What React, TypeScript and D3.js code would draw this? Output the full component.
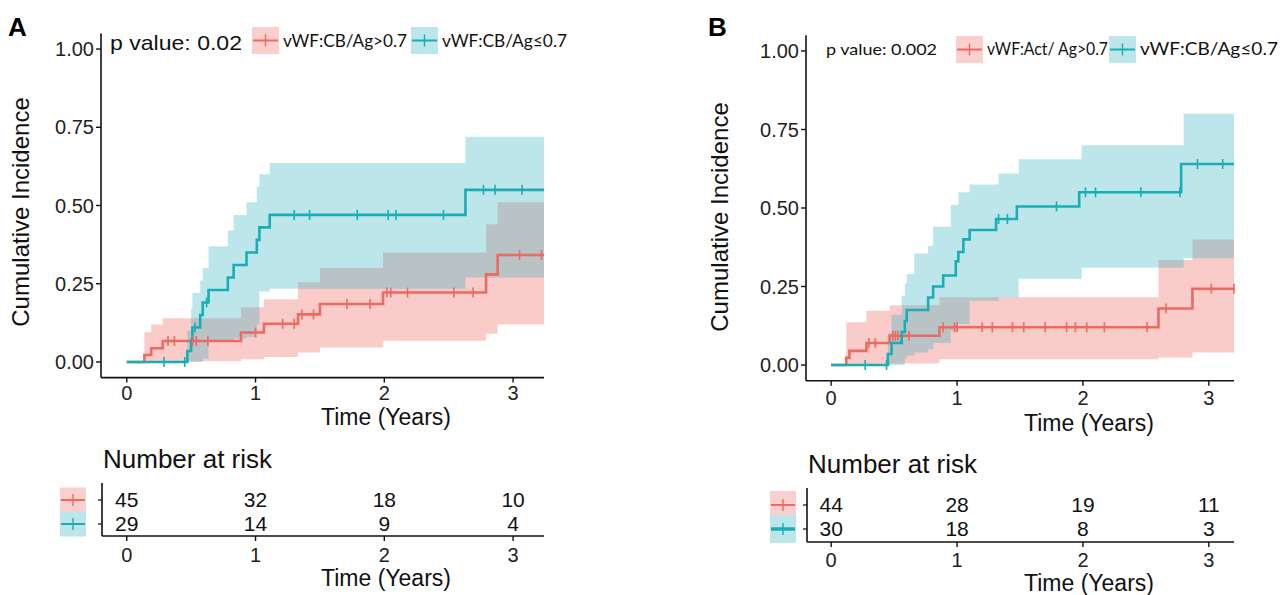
import React from 'react';
import * as d3 from 'd3';

// shared axis ticks
const timeTicks = [0, 1, 2, 3];
const incidenceTicks = [0, 0.25, 0.5, 0.75, 1];

// Panel A — step estimates [time, cumulative incidence]
const aHighSteps: [number, number][] = [
  [0, 0], [0.137, 0.022], [0.19, 0.044], [0.28, 0.067], [0.887, 0.094], [1.065, 0.122],
  [1.33, 0.152], [1.5, 0.185], [1.99, 0.222], [2.79, 0.28], [2.88, 0.342],
];
// confidence band [time, lower, upper]
const aHighBand: [number, number, number][] = [
  [0.137, 0, 0.095], [0.19, 0, 0.12], [0.28, 0.002, 0.14], [0.887, 0.009, 0.175],
  [1.065, 0.016, 0.2], [1.33, 0.03, 0.255], [1.5, 0.046, 0.3], [1.99, 0.068, 0.35],
  [2.79, 0.09, 0.44], [2.88, 0.12, 0.51],
];
const aHighCensor = [0.32, 0.37, 0.51, 0.54, 0.63, 1.0, 1.21, 1.3, 1.36, 1.45, 1.71, 1.89, 2.02, 2.05, 2.18, 2.54, 2.69, 3.05, 3.22];

const aLowSteps: [number, number][] = [
  [0, 0], [0.47, 0.035], [0.5, 0.07], [0.51, 0.11], [0.57, 0.15], [0.59, 0.19], [0.635, 0.23],
  [0.785, 0.27], [0.83, 0.31], [0.93, 0.35], [1.01, 0.39], [1.03, 0.43], [1.11, 0.47], [2.63, 0.55],
];
const aLowBand: [number, number, number][] = [
  [0.47, 0, 0.1], [0.5, 0, 0.17], [0.51, 0, 0.22], [0.57, 0, 0.26], [0.59, 0.01, 0.3],
  [0.635, 0.07, 0.37], [0.785, 0.07, 0.42], [0.83, 0.075, 0.47], [0.93, 0.08, 0.51],
  [1.01, 0.12, 0.56], [1.03, 0.225, 0.6], [1.11, 0.234, 0.636], [2.63, 0.27, 0.72],
];
const aLowCensor = [0.29, 0.45, 0.53, 0.62, 1.3, 1.42, 1.79, 2.03, 2.09, 2.46, 2.77, 2.86, 3.07];

const aRiskHigh = [45, 32, 18, 10];
const aRiskLow = [29, 14, 9, 4];

// Panel B
const bHighSteps: [number, number][] = [
  [0, 0], [0.12, 0.023], [0.145, 0.045], [0.28, 0.07], [0.465, 0.093], [0.86, 0.12],
  [2.6, 0.18], [2.87, 0.243],
];
const bHighBand: [number, number, number][] = [
  [0.12, 0, 0.136], [0.28, 0, 0.173], [0.465, 0.005, 0.19], [0.86, 0.018, 0.216],
  [2.6, 0.024, 0.334], [2.87, 0.04, 0.4],
];
const bHighCensor = [0.3, 0.35, 0.49, 0.51, 0.53, 0.62, 0.89, 0.98, 1.0, 1.2, 1.28, 1.44, 1.53, 1.7, 1.87, 1.94, 2.03, 2.17, 2.51, 2.66, 3.02, 3.2];

const bLowSteps: [number, number][] = [
  [0, 0], [0.45, 0.035], [0.48, 0.07], [0.56, 0.105], [0.585, 0.14], [0.6, 0.175], [0.77, 0.215],
  [0.81, 0.25], [0.89, 0.285], [0.99, 0.33], [1.01, 0.36], [1.05, 0.4], [1.1, 0.43],
  [1.31, 0.465], [1.475, 0.505], [1.97, 0.55], [2.78, 0.64],
];
const bLowBand: [number, number, number][] = [
  [0.45, 0, 0.1], [0.48, 0, 0.16], [0.56, 0, 0.22], [0.585, 0.02, 0.26], [0.6, 0.03, 0.29],
  [0.66, 0.04, 0.355], [0.77, 0.05, 0.38], [0.81, 0.07, 0.44], [0.95, 0.11, 0.51],
  [1.01, 0.13, 0.55], [1.1, 0.205, 0.575], [1.33, 0.215, 0.61], [1.49, 0.275, 0.655],
  [1.99, 0.31, 0.7], [2.8, 0.34, 0.8],
];
const bLowCensor = [0.27, 0.44, 1.33, 1.4, 1.79, 2.02, 2.1, 2.46, 2.77, 2.91, 3.11];

const bRiskHigh = [44, 28, 19, 11];
const bRiskLow = [30, 18, 8, 3];

const RED = '#EC6A60';
const CYAN = '#17AEB5';
const RED_FILL = '#EB554E';
const CYAN_FILL = '#26ACB9';
const RED_KEY = '#F9D0CD';
const CYAN_KEY = '#BDE6EA';

const FONT = '"Liberation Sans", Arial, sans-serif';
const LEG_FONT = 'Lato, "Open Sans", sans-serif';

const Key = ({ x, y, w, h, color, fill, lw = 2 }) => (
  <g>
    <rect x={x} y={y} width={w} height={h} fill={fill} />
    <line x1={x + 1} x2={x + w - 1} y1={y + h / 2} y2={y + h / 2} stroke={color} strokeWidth={lw} />
    <line x1={x + w / 2} x2={x + w / 2} y1={y + h / 2 - 6} y2={y + h / 2 + 6} stroke={color} strokeWidth={1.4} />
  </g>
);

const Panel = ({ cfg, high, low }) => {
  const x = d3.scaleLinear().domain([-0.2, cfg.xMax]).range([cfg.left, cfg.right]);
  const y = d3.scaleLinear().domain([-0.05, 1.05]).range([cfg.bottom, cfg.top]);
  const rowY = d3.scalePoint().domain(['high', 'low']).range(cfg.rows);

  const line = d3.line<[number, number]>()
    .x(d => x(d[0])).y(d => y(d[1])).curve(d3.curveStepAfter);
  const area = d3.area<[number, number, number]>()
    .x(d => x(d[0])).y0(d => y(d[1])).y1(d => y(d[2])).curve(d3.curveStepAfter);

  const stepAt = (steps: [number, number][], t: number) => {
    const i = d3.bisector((d: [number, number]) => d[0]).right(steps, t) - 1;
    return steps[Math.max(0, i)][1];
  };

  const series = [
    { key: 'high', ...high, color: RED, fill: RED_FILL },
    { key: 'low', ...low, color: CYAN, fill: CYAN_FILL },
  ];

  return (
    <g fontFamily={FONT}>
      <text x={cfg.tagX} y={36} fontSize={26} fontWeight="bold">{cfg.tag}</text>

      {/* bands */}
      {series.map(s => {
        const last = s.band[s.band.length - 1];
        return (
          <path key={'b' + s.key} d={area([...s.band, [cfg.xMax, last[1], last[2]]]) || ''}
            fill={s.fill} fillOpacity={0.3} />
        );
      })}
      {/* step lines */}
      {series.map(s => {
        const last = s.steps[s.steps.length - 1];
        return (
          <path key={'l' + s.key} d={line([...s.steps, [cfg.xMax, last[1]]]) || ''}
            fill="none" stroke={s.color} strokeWidth={2.6} />
        );
      })}
      {/* censor marks */}
      {series.map(s => s.censor.map((t, i) => (
        <line key={s.key + 'c' + i} x1={x(t)} x2={x(t)}
          y1={y(stepAt(s.steps, t)) - 5} y2={y(stepAt(s.steps, t)) + 5}
          stroke={s.color} strokeWidth={1.6} />
      )))}

      {/* axes */}
      <line x1={cfg.left} x2={cfg.left} y1={cfg.top} y2={cfg.bottom} stroke="#111" strokeWidth={1.6} />
      <line x1={cfg.left} x2={cfg.right} y1={cfg.bottom} y2={cfg.bottom} stroke="#111" strokeWidth={1.6} />
      {incidenceTicks.map(v => (
        <g key={'y' + v}>
          <line x1={cfg.left - 5} x2={cfg.left} y1={y(v)} y2={y(v)} stroke="#111" strokeWidth={1.4} />
          <text x={cfg.left - 7} y={y(v) + 7} fontSize={20} textAnchor="end" fill="#222">{v.toFixed(2)}</text>
        </g>
      ))}
      {timeTicks.map(t => (
        <g key={'x' + t}>
          <line x1={x(t)} x2={x(t)} y1={cfg.bottom} y2={cfg.bottom + 5} stroke="#111" strokeWidth={1.4} />
          <text x={x(t)} y={cfg.tickBase} fontSize={20} textAnchor="middle" fill="#222">{t}</text>
        </g>
      ))}
      <text x={cfg.titleX} y={cfg.titleBase} fontSize={23} textAnchor="middle" fill="#111">Time (Years)</text>
      <text transform={`translate(${cfg.yTitleX},${cfg.yTitleY}) rotate(-90)`} fontSize={24}
        textAnchor="middle" fill="#111">Cumulative Incidence</text>

      {/* legend */}
      <text x={cfg.pX} y={cfg.pBase} fontSize={cfg.pSize} fontFamily={cfg.pFont} fill="#111"
        textLength={cfg.pLen} lengthAdjust="spacingAndGlyphs">{cfg.pText}</text>
      {series.map((s, i) => (
        <g key={'leg' + s.key}>
          <Key x={cfg.leg[i]} y={cfg.legY} w={27} h={27} color={s.color} fill={i === 0 ? RED_KEY : CYAN_KEY} />
          <text x={cfg.leg[i] + 31} y={cfg.legBase} fontSize={cfg.legSize} fontFamily={LEG_FONT} fill="#111"
            textLength={cfg.legLen[i]} lengthAdjust="spacingAndGlyphs">{cfg.labels[i]}</text>
        </g>
      ))}

      {/* number at risk table */}
      <text x={cfg.left + 2} y={cfg.riskTitle} fontSize={26} fill="#111">Number at risk</text>
      <line x1={cfg.left + 1} x2={cfg.left + 1} y1={cfg.riskTop} y2={cfg.riskAxis} stroke="#111" strokeWidth={1.6} />
      <line x1={cfg.left + 1} x2={cfg.right} y1={cfg.riskAxis} y2={cfg.riskAxis} stroke="#111" strokeWidth={1.6} />
      {series.map(s => (
        <g key={'r' + s.key}>
          <line x1={cfg.left - 3} x2={cfg.left + 1} y1={rowY(s.key)} y2={rowY(s.key)} stroke="#111" strokeWidth={1.2} />
          <Key x={cfg.keyX} y={(rowY(s.key) || 0) - cfg.keyH / 2} w={26} h={cfg.keyH}
            color={s.color} fill={s.key === 'high' ? RED_KEY : CYAN_KEY} lw={s.key === 'low' && cfg.tag === 'B' ? 3.5 : 2} />
          {s.risk.map((n, i) => (
            <text key={i} x={x(timeTicks[i])} y={(rowY(s.key) || 0) + 7} fontSize={21}
              textAnchor="middle" fill="#111">{n}</text>
          ))}
        </g>
      ))}
      {timeTicks.map(t => (
        <g key={'rx' + t}>
          <line x1={x(t)} x2={x(t)} y1={cfg.riskAxis} y2={cfg.riskAxis + 5} stroke="#111" strokeWidth={1.4} />
          <text x={x(t)} y={cfg.riskTickBase} fontSize={20} textAnchor="middle" fill="#222">{t}</text>
        </g>
      ))}
      <text x={cfg.titleX} y={cfg.riskTitleBase} fontSize={23} textAnchor="middle" fill="#111">Time (Years)</text>
    </g>
  );
};

const cfgA = {
  tag: 'A', tagX: 8,
  left: 101, right: 544, top: 33.4, bottom: 377.6, xMax: 3.24,
  tickBase: 400, titleX: 386, titleBase: 425, yTitleX: 29, yTitleY: 212,
  pText: 'p value: 0.02', pX: 110, pBase: 50, pSize: 21, pFont: FONT, pLen: 132,
  leg: [252, 411], legY: 27, legBase: 47, legSize: 17, legLen: [124, 125],
  labels: ['vWF:CB/Ag>0.7', 'vWF:CB/Ag\u22640.7'],
  riskTitle: 468, riskTop: 483, riskAxis: 536, rows: [500, 524], keyX: 60, keyH: 25,
  riskTickBase: 562, riskTitleBase: 586,
};

const cfgB = {
  tag: 'B', tagX: 708,
  left: 806, right: 1234, top: 35.3, bottom: 380.7, xMax: 3.2,
  tickBase: 405, titleX: 1089, titleBase: 431, yTitleX: 728, yTitleY: 217,
  pText: 'p value: 0.002', pX: 826, pBase: 55, pSize: 16, pFont: LEG_FONT, pLen: 111,
  leg: [956, 1109], legY: 36, legBase: 55, legSize: 17, legLen: [121, 138],
  labels: ['vWF:Act/ Ag>0.7', 'vWF:CB/Ag\u22640.7'],
  riskTitle: 473, riskTop: 488, riskAxis: 542, rows: [505, 529], keyX: 770, keyH: 28,
  riskTickBase: 567, riskTitleBase: 591,
};

export default function App() {
  return (
    <svg width={1285} height={595} style={{ position: 'absolute', left: 0, top: 0, background: '#fff' }}>
      <rect width={1285} height={595} fill="#fff" />
      <Panel cfg={cfgA}
        high={{ steps: aHighSteps, band: aHighBand, censor: aHighCensor, risk: aRiskHigh }}
        low={{ steps: aLowSteps, band: aLowBand, censor: aLowCensor, risk: aRiskLow }} />
      <Panel cfg={cfgB}
        high={{ steps: bHighSteps, band: bHighBand, censor: bHighCensor, risk: bRiskHigh }}
        low={{ steps: bLowSteps, band: bLowBand, censor: bLowCensor, risk: bRiskLow }} />
    </svg>
  );
}
